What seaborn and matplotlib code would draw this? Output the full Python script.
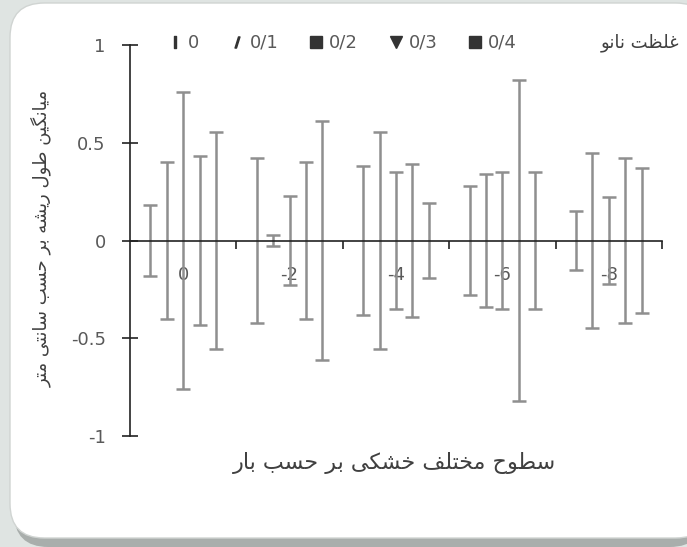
import numpy as np
import pandas as pd
import seaborn as sns
import matplotlib
matplotlib.use("Agg")
import matplotlib.pyplot as plt
from matplotlib.lines import Line2D
from matplotlib.patches import FancyBboxPatch

# ---- data -------------------------------------------------------------
drought_levels = ["0", "-2", "-4", "-6", "-8"]          # bar
nano_conc = ["0", "0/1", "0/2", "0/3", "0/4"]

mean_0 = [0, 0, 0, 0, 0]
mean_01 = [0, 0, 0, 0, 0]
mean_02 = [0, 0, 0, 0, 0]
mean_03 = [0, 0, 0, 0, 0]
mean_04 = [0, 0, 0, 0, 0]

err_0 = [0.18, 0.42, 0.38, 0.28, 0.15]
err_01 = [0.40, 0.03, 0.555, 0.34, 0.45]
err_02 = [0.76, 0.23, 0.35, 0.35, 0.22]
err_03 = [0.43, 0.40, 0.39, 0.82, 0.42]
err_04 = [0.555, 0.61, 0.19, 0.35, 0.37]

x_title = "سطوح مختلف خشکی بر حسب بار"
y_title = "میانگین طول ریشه بر حسب سانتی متر"
legend_title = "غلظت نانو"

means = [mean_0, mean_01, mean_02, mean_03, mean_04]
errs = [err_0, err_01, err_02, err_03, err_04]

df = pd.DataFrame(
    [(lvl, c, means[j][i], errs[j][i])
     for j, c in enumerate(nano_conc)
     for i, lvl in enumerate(drought_levels)],
    columns=["level", "conc", "mean", "err"],
)

# ---- minimal Persian shaping (contextual forms + right-to-left order) ---
_FORMS = {
    "ا": ("\uFE8D", "\uFE8E", None, None),
    "ب": ("\uFE8F", "\uFE90", "\uFE91", "\uFE92"),
    "ت": ("\uFE95", "\uFE96", "\uFE97", "\uFE98"),
    "ح": ("\uFEA1", "\uFEA2", "\uFEA3", "\uFEA4"),
    "خ": ("\uFEA5", "\uFEA6", "\uFEA7", "\uFEA8"),
    "ر": ("\uFEAD", "\uFEAE", None, None),
    "س": ("\uFEB1", "\uFEB2", "\uFEB3", "\uFEB4"),
    "ش": ("\uFEB5", "\uFEB6", "\uFEB7", "\uFEB8"),
    "ط": ("\uFEC1", "\uFEC2", "\uFEC3", "\uFEC4"),
    "ظ": ("\uFEC5", "\uFEC6", "\uFEC7", "\uFEC8"),
    "غ": ("\uFECD", "\uFECE", "\uFECF", "\uFED0"),
    "ف": ("\uFED1", "\uFED2", "\uFED3", "\uFED4"),
    "ل": ("\uFEDD", "\uFEDE", "\uFEDF", "\uFEE0"),
    "م": ("\uFEE1", "\uFEE2", "\uFEE3", "\uFEE4"),
    "ن": ("\uFEE5", "\uFEE6", "\uFEE7", "\uFEE8"),
    "ه": ("\uFEE9", "\uFEEA", "\uFEEB", "\uFEEC"),
    "و": ("\uFEED", "\uFEEE", None, None),
    "ک": ("\uFB8E", "\uFB8F", "\uFB90", "\uFB91"),
    "گ": ("\uFB92", "\uFB93", "\uFB94", "\uFB95"),
    "ی": ("\uFBFC", "\uFBFD", "\uFBFE", "\uFBFF"),
}


def shape_fa(text):
    out = []
    n = len(text)
    for i, ch in enumerate(text):
        f = _FORMS.get(ch)
        if f is None:
            out.append(ch)
            continue
        prev = text[i - 1] if i > 0 else ""
        nxt = text[i + 1] if i < n - 1 else ""
        join_prev = prev in _FORMS and _FORMS[prev][2] is not None
        join_next = f[2] is not None and nxt in _FORMS
        if join_prev and join_next:
            out.append(f[3])
        elif join_prev:
            out.append(f[1])
        elif join_next:
            out.append(f[2])
        else:
            out.append(f[0])
    return "".join(reversed(out))


# ---- figure -----------------------------------------------------------
sns.set_theme(style="white")
plt.rcParams["font.family"] = ["DejaVu Sans"]

W, H = 687, 547
fig = plt.figure(figsize=(W / 100, H / 100), dpi=100)
fig.patch.set_facecolor("#dfe4e2")

# rounded chart-area card with a soft shadow, kept behind the axes
shadow = FancyBboxPatch((14 / W, 0 / H), 690 / W, 537 / H,
                        boxstyle="round,pad=0,rounding_size=0.05",
                        transform=fig.transFigure, facecolor="#a9aeac",
                        edgecolor="none", zorder=-3, mutation_aspect=W / H)
card = FancyBboxPatch((10 / W, 9 / H), 700 / W, 535 / H,
                      boxstyle="round,pad=0,rounding_size=0.05",
                      transform=fig.transFigure, facecolor="white",
                      edgecolor="#d0d4d2", linewidth=1, zorder=-2,
                      mutation_aspect=W / H)
fig.patches.extend([shadow, card])

ax = fig.add_axes([130 / W, 1 - 436 / H, 532 / W, 391 / H])
ax.set_facecolor("none")

sns.barplot(data=df, x="level", y="mean", hue="conc", order=drought_levels,
            hue_order=nano_conc, errorbar=None, width=0.77, dodge=True,
            palette=["white"] * 5, edgecolor="none", legend=False, ax=ax)

bar_groups = list(ax.containers)
for j, cont in enumerate(bar_groups):
    xs = [p.get_x() + p.get_width() / 2 for p in cont.patches]
    sub = df[df["conc"] == nano_conc[j]].set_index("level").loc[drought_levels]
    ax.errorbar(xs, sub["mean"], yerr=sub["err"], fmt="none",
                ecolor="#8f8f8f", elinewidth=1.8, capsize=5, capthick=1.8,
                zorder=3)

ax.set_xlim(-0.5, 4.5)
ax.set_ylim(-1, 1)
ax.set_yticks([-1, -0.5, 0, 0.5, 1])
ax.set_yticklabels(["-1", "-0.5", "0", "0.5", "1"])

for s in ["top", "right"]:
    ax.spines[s].set_visible(False)
ax.spines["left"].set_color("#222222")
ax.spines["left"].set_linewidth(1.2)
ax.spines["bottom"].set_position(("data", 0))
ax.spines["bottom"].set_color("#222222")
ax.spines["bottom"].set_linewidth(1.2)
ax.spines["bottom"].set_zorder(4)

ax.tick_params(axis="y", direction="inout", length=11, width=1.2,
               color="#222222", labelcolor="#595959", labelsize=13, pad=12,
               left=True)
ax.set_xticks(range(5))
ax.set_xticklabels(drought_levels)
ax.set_xticks(np.arange(0.5, 5, 1), minor=True)
ax.tick_params(axis="x", which="major", length=0, pad=18,
               labelcolor="#595959", labelsize=13)
ax.tick_params(axis="x", which="minor", direction="out", length=6,
               width=1.2, color="#222222", bottom=True)
ax.set_xlabel("")
ax.set_ylabel("")

fig.text(395 / W, 1 - 463 / H, shape_fa(x_title), ha="center", va="center",
         fontsize=16, color="#404040")
fig.text(41 / W, 1 - 238 / H, shape_fa(y_title), ha="center", va="center",
         rotation=90, fontsize=13, color="#404040")
fig.text(640 / W, 1 - 43 / H, shape_fa(legend_title), ha="center",
         va="center", fontsize=13, color="#404040")

icons = [r"$\mathbf{I}$", r"$\mathbf{/}$", "s", "v", "s"]
handles = [Line2D([], [], linestyle="none", marker=m, markersize=8,
                  color="#333333") for m in icons]
fig.legend(handles, nano_conc, loc="center left",
           bbox_to_anchor=(150 / W, 1 - 43 / H), ncol=5, frameon=False,
           fontsize=13, labelcolor="#595959", handletextpad=0.2,
           columnspacing=1.6, handlelength=1.0)

fig.savefig("out.png", dpi=100, facecolor=fig.get_facecolor())
